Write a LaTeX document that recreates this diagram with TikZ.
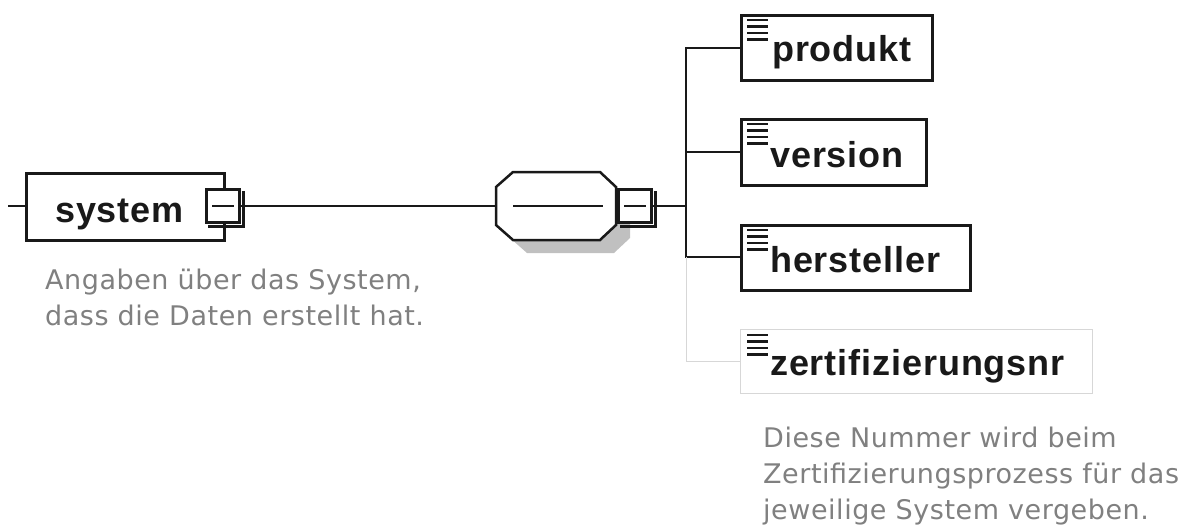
\documentclass[tikz,border=0pt]{standalone}
\usepackage{fontspec}
\setmainfont{Liberation Sans}
\newfontfamily\namefont[LetterSpace=2.5]{Liberation Sans}
\newfontfamily\notefont[LetterSpace=2]{DejaVu Sans}
\usetikzlibrary{calc}
\definecolor{ink}{RGB}{25,25,25}
\definecolor{optgray}{RGB}{215,215,215}
\definecolor{shadowgray}{RGB}{192,192,192}
\definecolor{notegray}{RGB}{128,128,128}
\tikzset{
  wire/.style={draw=ink, line width=2.5pt},
  optwire/.style={draw=optgray, line width=1pt},
  elembox/.style={draw=ink, line width=2.5pt, fill=white, inner sep=0, anchor=north west},
  optbox/.style={draw=optgray, line width=1.2pt, fill=white, inner sep=0, anchor=north west},
  minusbox/.style={draw=ink, line width=2.5pt, fill=white, inner sep=0,
    minimum width=33pt, minimum height=33pt, anchor=north west},
  boxshadow/.style={draw=ink, line width=3pt},
  ename/.style={inner sep=0, anchor=base west, text=ink,
    font=\namefont\bfseries\fontsize{36}{40}\selectfont},
  note/.style={inner sep=0, anchor=base west, align=left, text=notegray,
    font=\notefont\fontsize{27}{36}\selectfont},
  iconline/.style={draw=ink, line width=2.5pt}
}
% element icon: four short bars in the top left corner of a box
\newcommand\elemicon[1]{%
  \foreach \d in {6,12.5,19,25.5}
    \draw[iconline] ([shift={(7,\d)}]#1.north west) -- ++(21,0);}
% minus square with its drop shadow and bar
\newcommand\minussign[1]{%
  \draw[boxshadow] ([shift={(3,3)}]#1.north east) -- ([shift={(3,3)}]#1.south east)
    -- ([shift={(3,3)}]#1.south west);
  \draw[wire] ([xshift=7pt]#1.west) -- ([xshift=-7pt]#1.east);}
\begin{document}
\begin{tikzpicture}[x=1pt, y=-1pt]
\useasboundingbox (0,0) rectangle (1184,530);

% connection points
\coordinate (in) at (8,206);
\coordinate (bus) at (686,206);

% sequence compositor (octagon) with shadow
\node[inner sep=0, minimum width=120pt, minimum height=68pt] (seq) at (556,206) {};
\fill[shadowgray, shift={(14,13)}]
  (496,187) -- (513,172) -- (600,172) -- (616,187) -- (616,225)
  -- (600,240) -- (513,240) -- (496,225) -- cycle;

% main connectors
\draw[wire] (in) -- (30,206);
\draw[wire] (230,206) -- (seq.west);
\draw[wire] (640,206) -- (bus);
\draw[wire] (bus) |- (700,48);
\draw[wire] (bus) |- (700,152);
\draw[wire] (bus) |- (700,257);
\draw[optwire] (686,257) |- (700,361);

% octagon body
\draw[wire, fill=white]
  (496,187) -- (513,172) -- (600,172) -- (616,187) -- (616,225)
  -- (600,240) -- (513,240) -- (496,225) -- cycle;
\draw[wire] (513,206) -- (603,206);

% element "system"
\node[elembox, minimum width=198pt, minimum height=67pt] (system) at (25,172) {};
\node[ename] (system-name) at (55,222) {system};
\node[minusbox] (sysminus) at (205,188) {};
\minussign{sysminus}

% minus square of the sequence
\node[minusbox] (seqminus) at (617,188) {};
\minussign{seqminus}

% child elements
\node[elembox, minimum width=191pt, minimum height=65pt] (produkt) at (740,14) {};
\node[elembox, minimum width=185pt, minimum height=66pt] (version) at (740,118) {};
\node[elembox, minimum width=229pt, minimum height=65pt] (hersteller) at (740,224) {};
\node[optbox, minimum width=352pt, minimum height=64pt] (zert) at (740,329) {};

\draw[wire] (700,48) -- (produkt.west |- 0,48);
\draw[wire] (700,152) -- (version.west |- 0,152);
\draw[wire] (700,257) -- (hersteller.west |- 0,257);
\draw[optwire] (700,361) -- (zert.west |- 0,361);

\elemicon{produkt}
\elemicon{version}
\elemicon{hersteller}
\elemicon{zert}

\node[ename] (produkt-name) at (772,61) {produkt};
\node[ename] (version-name) at (770,167) {version};
\node[ename] (hersteller-name) at (770,272) {hersteller};
\node[ename] (zert-name) at (770,375) {zertifizierungsnr};

% annotations (base anchor sits on the last line)
\node[note] (system-note) at (45,325) {Angaben über das System,\\dass die Daten erstellt hat.};
\node[note] (zert-note) at (763,519) {Diese Nummer wird beim\\Zertifizierungsprozess für das\\jeweilige System vergeben.};
\end{tikzpicture}
\end{document}
